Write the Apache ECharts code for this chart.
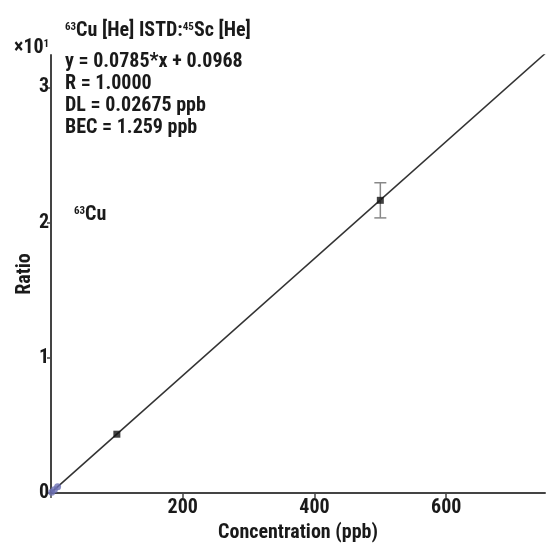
<!DOCTYPE html>
<html><head><meta charset="utf-8">
<script src="https://cdn.jsdelivr.net/npm/echarts@6/dist/echarts.min.js"></script>
<style>html,body{margin:0;padding:0;background:#fff}#c{width:548px;height:548px}</style>
</head><body><div id="c"></div>
<script>
const FONT = '"Liberation Sans Narrow","Roboto Condensed","Liberation Sans",sans-serif';
// data (ratio in units of x10^1)
const stdBlack = [[100, 0.435], [500, 2.165]];
const stdBlue = [[1, 0.006], [5, 0.024], [10, 0.046]];
const errorBars = [[500, 2.165, 2.035, 2.295]];
const fitLine = [[0, 0.003], [750, 3.25]];
const xTicks = [200, 400, 600];
const yTicks = [0, 1, 2, 3];
const titleText = '{sup|63}Cu [He] ISTD:{sup|45}Sc [He]';
const annLines = ['y = 0.0785*x + 0.0968', 'R = 1.0000', 'DL = 0.02675 ppb', 'BEC = 1.259 ppb'];

const chart = echarts.init(document.getElementById('c'));
const txt = '#1a1a1a';
const FS = 20;
const sup = {fontSize: 11, fontFamily: FONT, fontWeight: 'bold', fill: txt, padding: [0, 0, 8, 0]};
chart.setOption({
  animation: false,
  grid: {left: 51, right: 3, top: 55, bottom: 55},
  xAxis: {
    type: 'value', min: 0, max: 750, interval: 200,
    name: 'Concentration (ppb)', nameLocation: 'middle', nameGap: 26,
    nameTextStyle: {fontFamily: FONT, fontWeight: 'bold', fontSize: FS, color: txt},
    axisLine: {lineStyle: {color: '#444', width: 2}},
    axisTick: {show: true, length: 5, lineStyle: {color: '#444', width: 1.5}},
    axisLabel: {fontFamily: FONT, fontWeight: 'bold', fontSize: FS, color: txt, margin: 5, showMaxLabel: false,
      formatter: v => xTicks.includes(v) ? String(v) : ''},
    splitLine: {show: false}
  },
  yAxis: {
    type: 'value', min: 0, max: 3.24, interval: 1,
    name: 'Ratio', nameLocation: 'middle', nameGap: 16, nameRotate: 90, nameMoveOverlap: false,
    nameTextStyle: {fontFamily: FONT, fontWeight: 'bold', fontSize: FS, color: txt},
    axisLine: {show: true, lineStyle: {color: '#444', width: 2}},
    axisTick: {show: true, length: 4, lineStyle: {color: '#444', width: 1.5}},
    axisLabel: {fontFamily: FONT, fontWeight: 'bold', fontSize: FS, color: txt, margin: 2, showMaxLabel: false,
      formatter: v => yTicks.includes(v) ? String(v) : ''},
    splitLine: {show: false}
  },
  series: [
    {type: 'line', data: fitLine, symbol: 'none', lineStyle: {color: '#333', width: 1.5}, z: 2},
    {type: 'custom', data: errorBars, z: 3,
      renderItem: (params, api) => {
        const x = api.value(0);
        const lo = api.coord([x, api.value(2)]);
        const hi = api.coord([x, api.value(3)]);
        const style = {stroke: '#888', lineWidth: 1.5};
        return {type: 'group', children: [
          {type: 'line', shape: {x1: lo[0], y1: lo[1], x2: hi[0], y2: hi[1]}, style},
          {type: 'line', shape: {x1: lo[0]-6, y1: lo[1], x2: lo[0]+6, y2: lo[1]}, style},
          {type: 'line', shape: {x1: hi[0]-6, y1: hi[1], x2: hi[0]+6, y2: hi[1]}, style}
        ]};
      }},
    {type: 'scatter', data: stdBlack, symbol: 'rect', symbolSize: 7, itemStyle: {color: '#111'}, z: 4},
    {type: 'scatter', data: stdBlue, symbol: 'circle', symbolSize: 7, itemStyle: {color: '#6b6fb3'}, z: 4}
  ],
  graphic: [
    {type: 'text', left: 65, top: 21, style: {text: titleText, fontFamily: FONT, fontWeight: 'bold', fontSize: FS, fill: txt, rich: {sup}}},
    {type: 'text', left: 14, top: 38, style: {text: '×10{sup|1}', fontFamily: FONT, fontWeight: 'bold', fontSize: FS, fill: txt, rich: {sup}}},
    {type: 'text', left: 65, top: 51, style: {text: annLines.join('\n'), fontFamily: FONT, fontWeight: 'bold', fontSize: FS, lineHeight: 22, fill: txt}},
    {type: 'text', left: 74, top: 205, style: {text: '{sup|63}Cu', fontFamily: FONT, fontWeight: 'bold', fontSize: FS, fill: txt, rich: {sup}}}
  ]
});
</script></body></html>
